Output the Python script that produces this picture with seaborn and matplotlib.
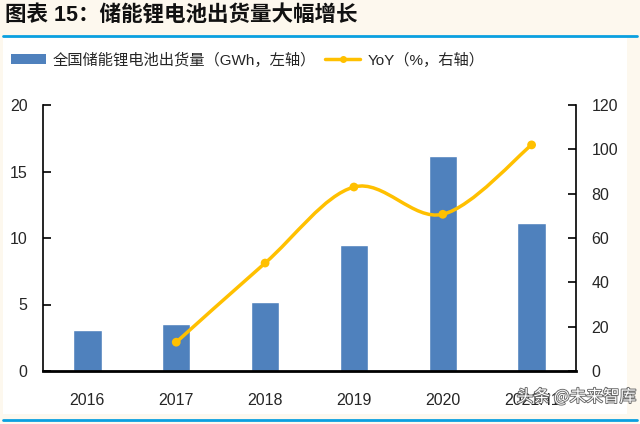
import matplotlib
matplotlib.use("Agg")
import matplotlib.pyplot as plt
import seaborn as sns
import pandas as pd
import numpy as np
from matplotlib.path import Path
from matplotlib.patches import PathPatch, Patch, Rectangle
from matplotlib.lines import Line2D
import matplotlib.patheffects as pe

years = ["2016", "2017", "2018", "2019", "2020", "2021H1"]
shipments = [3.1, 3.5, 5.2, 9.5, 16.2, 11.1]
yoy_years = ["2017", "2018", "2019", "2020", "2021H1"]
yoy = [13, 48.7, 83, 70.7, 102]

bar_color = "#4f81bd"
line_color = "#ffc000"
bg = "#fdf8ee"

sns.set_theme(style="white")
plt.rcParams["font.family"] = ["Liberation Sans", "Noto Sans CJK SC", "DejaVu Sans"]

fig = plt.figure(figsize=(6.4, 4.24), dpi=100, facecolor=bg)

# white panel + blue rules
fig.add_artist(Rectangle((3 / 640, 1 - 414 / 424), 624 / 640, 376 / 424,
                         transform=fig.transFigure, facecolor="white", edgecolor="none", zorder=0))
fig.add_artist(Line2D([3 / 640, 637 / 640], [1 - 36 / 424] * 2, transform=fig.transFigure,
                      color="#0aa0e0", lw=2))
fig.add_artist(Line2D([3 / 640, 637 / 640], [1 - 420 / 424] * 2, transform=fig.transFigure,
                      color="#0aa0e0", lw=2))

fig.text(5 / 640, 1 - 16 / 424, "图表 15：储能锂电池出货量大幅增长", fontsize=15.5,
         fontweight="bold", va="center", ha="left", color="#111111")

ax = fig.add_axes([43 / 640, 1 - 371 / 424, 533 / 640, 266 / 424])
ax.set_facecolor("none")
df = pd.DataFrame({"year": years, "val": shipments})
sns.barplot(data=df, x="year", y="val", color=bar_color, width=0.32, saturation=1,
            ax=ax, zorder=2)
ax.set_xlim(-0.5, 5.5)
ax.set_ylim(0, 20)
ax.set_yticks([0, 5, 10, 15, 20])
ax.set_xlabel("")
ax.set_ylabel("")
ax.set_xticks(np.arange(0.5, 5, 1), minor=True)
ax.tick_params(axis="x", which="major", length=0, pad=16, labelsize=11.5)
ax.tick_params(axis="x", which="minor", direction="in", length=6, width=1.2, color="black")
ax.tick_params(axis="y", direction="in", length=6, width=1.2, color="black", pad=11, labelsize=11.5,
               left=True)
for s in ["top", "right"]:
    ax.spines[s].set_visible(False)
ax.spines["left"].set_color("black")
ax.spines["left"].set_linewidth(1.2)
ax.spines["bottom"].set_color("black")
ax.spines["bottom"].set_linewidth(2)

ax2 = ax.twinx()
ax2.set_ylim(0, 120)
ax2.set_yticks(range(0, 121, 20))
ax2.tick_params(axis="y", direction="in", length=6, width=1.2, color="black", pad=11,
                labelsize=11.5, right=True)
for s in ["top", "left", "bottom"]:
    ax2.spines[s].set_visible(False)
ax2.spines["right"].set_color("black")
ax2.spines["right"].set_linewidth(1.2)

# smoothed line (Catmull-Rom style beziers through the data points)
xs = np.array([years.index(y) for y in yoy_years], dtype=float)
ys = np.array(yoy, dtype=float)
pts = np.column_stack([xs, ys])
ext = np.vstack([pts[0], pts, pts[-1]])
verts = [tuple(pts[0])]
codes = [Path.MOVETO]
for i in range(1, len(ext) - 2):
    p0, p1, p2, p3 = ext[i - 1], ext[i], ext[i + 1], ext[i + 2]
    c1 = p1 + (p2 - p0) / 6
    c2 = p2 - (p3 - p1) / 6
    verts += [tuple(c1), tuple(c2), tuple(p2)]
    codes += [Path.CURVE4] * 3
ax2.add_patch(PathPatch(Path(verts, codes), fill=False, edgecolor=line_color, lw=2.5,
                        capstyle="round", zorder=3))
sns.scatterplot(x=xs, y=ys, color=line_color, s=40, edgecolor="none", ax=ax2, zorder=4)
ax2.set_xlim(-0.5, 5.5)

handles = [Patch(facecolor=bar_color, edgecolor="none"),
           Line2D([], [], color=line_color, lw=2.5, marker="o", markersize=4)]
labels = ["全国储能锂电池出货量（GWh，左轴）", "YoY（%，右轴）"]
fig.legend(handles, labels, loc="center left", bbox_to_anchor=(0.0, 1 - 60 / 424), ncol=2,
           frameon=False, fontsize=11, handlelength=2.3, handleheight=0.6, handletextpad=0.45,
           columnspacing=0.6, borderaxespad=0.3)

fig.text(636 / 640, 1 - 397 / 424, "头条 @未来智库", fontsize=12, ha="right", va="center",
         color="white", family=["Noto Sans CJK SC", "DejaVu Sans"],
         path_effects=[pe.withStroke(linewidth=1.3, foreground="#666666")])

fig.savefig("out.png", dpi=100, facecolor=bg)
